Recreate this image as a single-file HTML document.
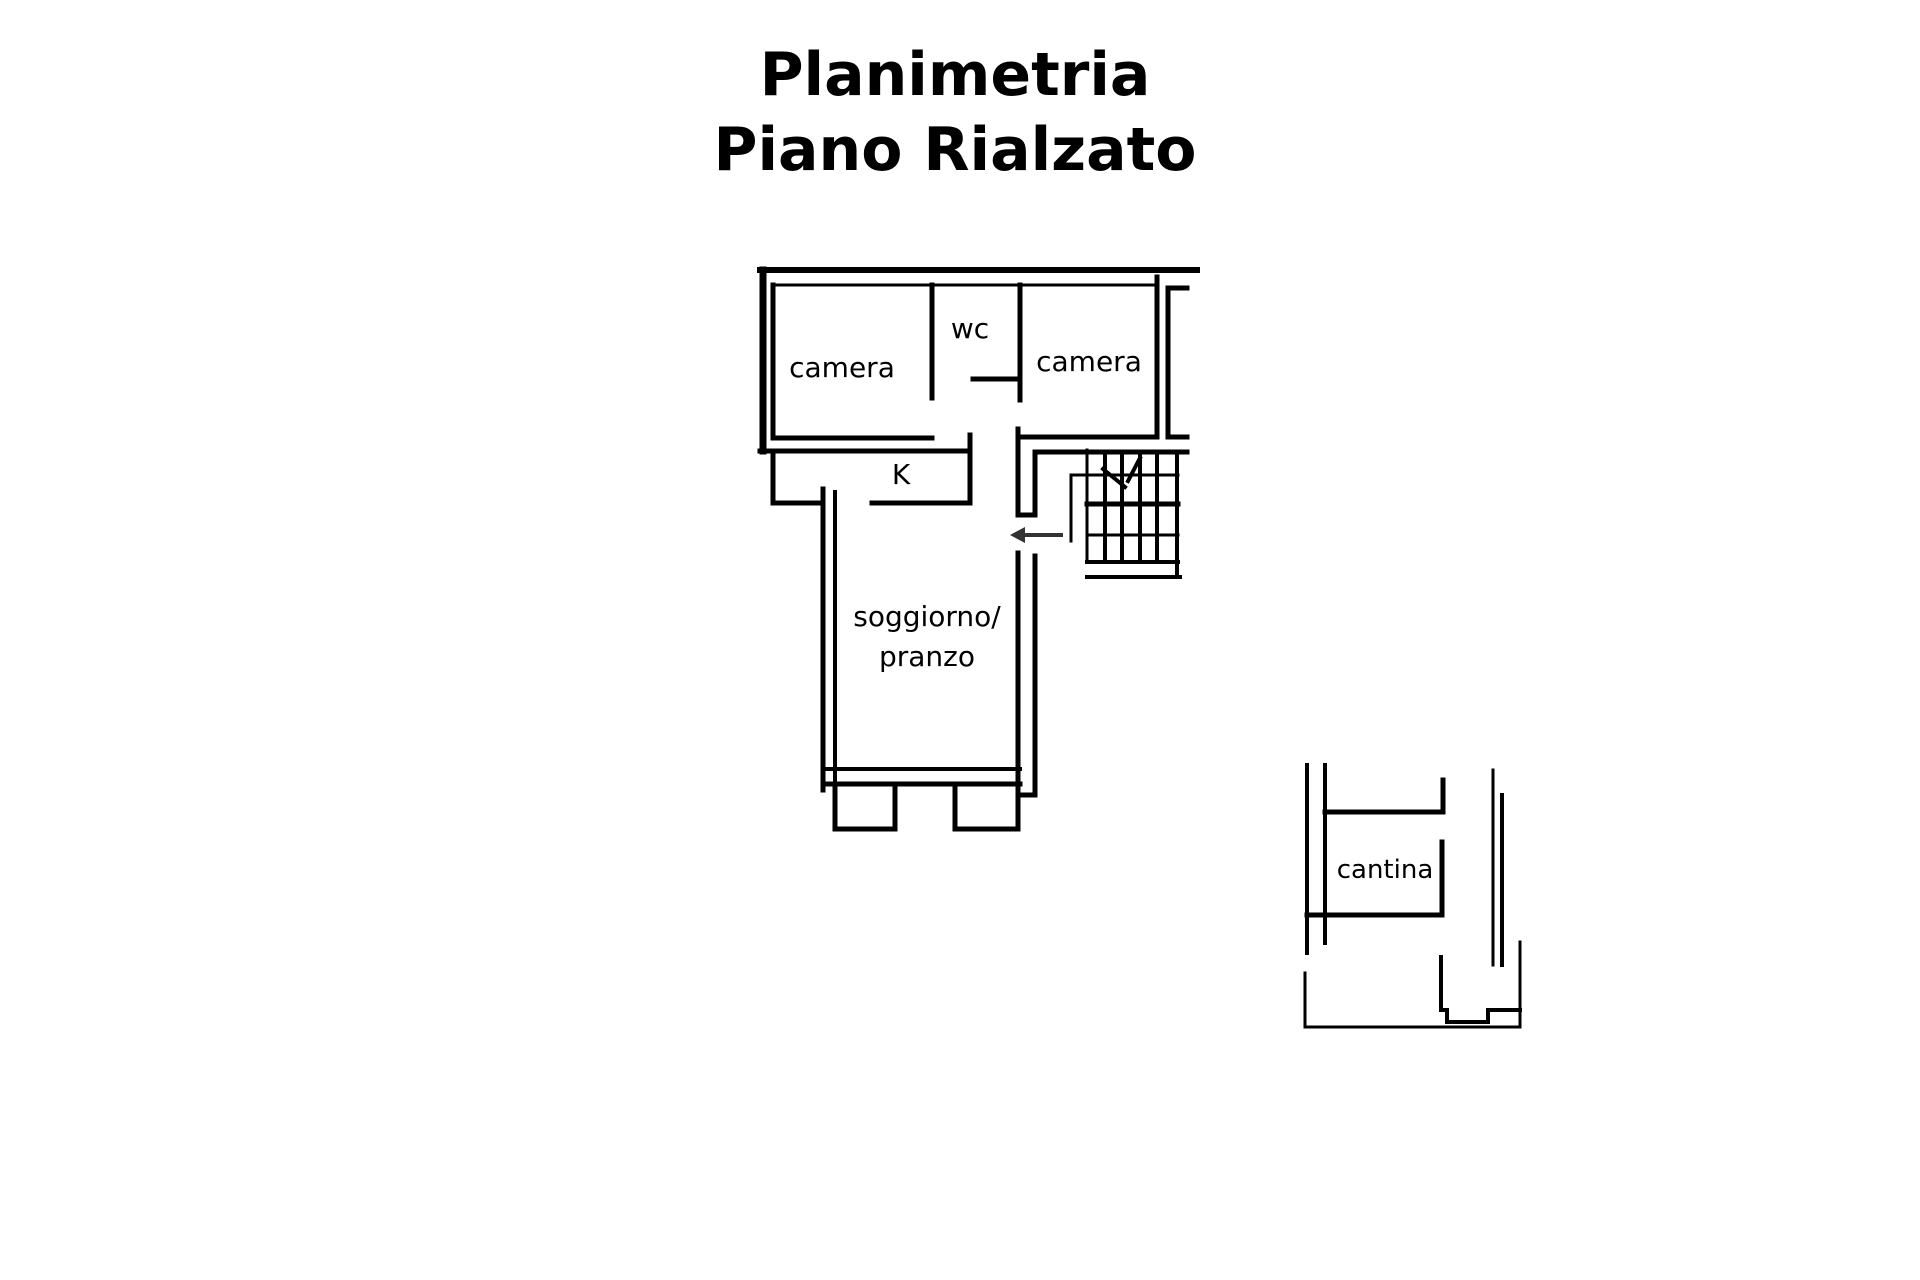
<!DOCTYPE html>
<html><head><meta charset="utf-8"><style>
html,body{margin:0;padding:0;background:#fff;width:1920px;height:1280px;overflow:hidden}
svg{display:block}
</style></head><body>
<svg width="1920" height="1280" viewBox="0 0 1920 1280" xmlns="http://www.w3.org/2000/svg">
<g font-family="'DejaVu Sans', Verdana, sans-serif" font-weight="bold" font-size="60" text-anchor="middle" fill="#000">
<text x="955" y="95">Planimetria</text>
<text x="955" y="170">Piano Rialzato</text>
</g>
<g stroke="#000" fill="none" stroke-linecap="square">
<path d="M760 270 H1197" stroke-width="6"/>
<path d="M773 285 H1155" stroke-width="3"/>
<path d="M763 270 V451" stroke-width="7"/>
<path d="M773 285 V438 H932" stroke-width="5"/>
<path d="M932 285 V398" stroke-width="5"/>
<path d="M1020 285 V400" stroke-width="5"/>
<path d="M973 379 H1020" stroke-width="5"/>
<path d="M1020 437 H1157 V277" stroke-width="5"/>
<path d="M1187 288 H1168 V437 H1187" stroke-width="5"/>
<path d="M760 451 H970 V435" stroke-width="5"/>
<path d="M773 451 V503 H823" stroke-width="5"/>
<path d="M872 503 H970 V451" stroke-width="5"/>
<path d="M823 489 V790" stroke-width="5"/>
<path d="M835 492 V783" stroke-width="4"/>
<path d="M1018 553 V795 H1035 V556" stroke-width="5"/>
<path d="M1018 429 V515 H1035 V452 H1187" stroke-width="5"/>
<path d="M823 769 H1020" stroke-width="4"/>
<path d="M823 784 H1020" stroke-width="5"/>
<path d="M835 784 V829 H895 V784" stroke-width="5"/>
<path d="M955 784 V829 H1018 V784" stroke-width="5"/>
<path d="M1087 450 V559" stroke-width="3"/>
<path d="M1071 475 V541" stroke-width="3"/>
<path d="M1071 475 H1178" stroke-width="3"/>
<path d="M1087 504 H1178" stroke-width="5"/>
<path d="M1087 535 H1178" stroke-width="3"/>
<path d="M1087 562 H1178" stroke-width="4"/>
<path d="M1087 577 H1180" stroke-width="4"/>
<path d="M1105 452 V559 M1122 452 V559 M1140 452 V559 M1157 452 V559 M1177 452 V577" stroke-width="4"/>
<path d="M1103 469 L1125 487 M1128 481 L1140 458" stroke-width="4"/>
<path d="M1307 765 V953" stroke-width="4"/>
<path d="M1325 765 V943" stroke-width="4"/>
<path d="M1325 812 H1443 V780" stroke-width="5"/>
<path d="M1307 915 H1442 V842" stroke-width="5"/>
<path d="M1493 770 V965" stroke-width="3"/>
<path d="M1502 795 V965" stroke-width="4"/>
<path d="M1305 973 V1027 H1520 V942" stroke-width="3"/>
<path d="M1441 957 V1010 H1447 V1022 H1488 V1010 H1520" stroke-width="4"/>
</g>
<path d="M1063 535 H1020" stroke="#333" stroke-width="4"/>
<path d="M1010 535 L1025 527 L1025 543 Z" fill="#333"/>
<g font-family="'DejaVu Sans', Verdana, sans-serif" font-size="28" text-anchor="middle" fill="#000">
<text x="842" y="377">camera</text>
<text x="970" y="338">wc</text>
<text x="1089" y="371">camera</text>
<text x="901" y="484">K</text>
<text x="927" y="626">soggiorno/</text>
<text x="927" y="666">pranzo</text>
<text x="1385" y="878" font-size="26">cantina</text>
</g>
</svg>
</body></html>
